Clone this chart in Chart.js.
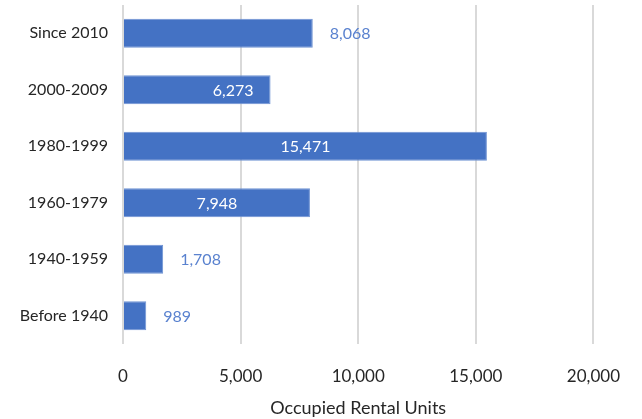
<!DOCTYPE html>
<html>
<head>
<meta charset="utf-8">
<script src="https://cdn.jsdelivr.net/npm/chart.js@4/dist/chart.umd.min.js"></script>
<style>
  html, body { margin: 0; padding: 0; background: #fff; }
  #wrap { width: 642px; height: 419px; }
</style>
</head>
<body>
<div id="wrap"><canvas id="barchart"></canvas></div>
<script>
var categories = ["Since 2010", "2000-2009", "1980-1999", "1960-1979", "1940-1959", "Before 1940"];
var units = [8068, 6273, 15471, 7948, 1708, 989];
var xTicks = [0, 5000, 10000, 15000, 20000];
// where Excel put each data label
var labelPlace = ["outside", "end", "center", "center", "outside", "outside"];

var FONT = 'Lato, "Open Sans", sans-serif';

var barLabels = {
  id: 'barLabels',
  afterDatasetsDraw: function(chart) {
    var ctx = chart.ctx;
    var meta = chart.getDatasetMeta(0);
    ctx.save();
    ctx.font = '16px ' + FONT;
    ctx.textBaseline = 'middle';
    meta.data.forEach(function(bar, i) {
      var txt = units[i].toLocaleString('en-US');
      var place = labelPlace[i];
      if (place === 'outside') {
        ctx.fillStyle = '#5a82cf';
        ctx.textAlign = 'left';
        ctx.fillText(txt, bar.x + 17, bar.y + 1);
      } else if (place === 'end') {
        ctx.fillStyle = '#ffffff';
        ctx.textAlign = 'right';
        ctx.fillText(txt, bar.x - 17, bar.y + 1);
      } else {
        ctx.fillStyle = '#ffffff';
        ctx.textAlign = 'center';
        ctx.fillText(txt, (bar.x + bar.base) / 2, bar.y + 1);
      }
    });
    ctx.restore();
  }
};

new Chart(document.getElementById("barchart"), {
  type: 'bar',
  data: {
    labels: categories,
    datasets: [{
      label: "Occupied Rental Units",
      data: units,
      backgroundColor: "#4472C4",
      borderColor: "#6f93d3",
      borderWidth: 1,
      categoryPercentage: 1,
      barPercentage: 0.51
    }]
  },
  options: {
    indexAxis: 'y',
    responsive: true,
    maintainAspectRatio: false,
    animation: false,
    layout: { padding: { left: 0, right: 48, top: 5, bottom: 0 } },
    plugins: {
      legend: { display: false },
      tooltip: { enabled: false }
    },
    scales: {
      x: {
        min: 0,
        max: 20000,
        afterBuildTicks: function(scale) {
          scale.ticks = xTicks.map(function(v) { return { value: v }; });
        },
        afterFit: function(scale) { scale.height = 75; },
        grid: { color: '#d9d9d9', lineWidth: 2, drawTicks: false },
        border: { display: false },
        ticks: {
          color: '#262626',
          padding: 22,
          font: { family: FONT, size: 17 },
          callback: function(v) { return v.toLocaleString('en-US'); }
        },
        title: {
          display: true,
          text: 'Occupied Rental Units',
          color: '#262626',
          font: { family: FONT, size: 18 },
          padding: { top: 4, bottom: 0 }
        }
      },
      y: {
        afterFit: function(scale) {
          scale.width = 123;
          scale.paddingTop = 0;
          scale.paddingBottom = 0;
        },
        grid: { display: false, drawTicks: false },
        border: { display: false },
        ticks: {
          color: '#262626',
          padding: 15,
          font: { family: FONT, size: 16 }
        }
      }
    }
  },
  plugins: [barLabels]
});
</script>
</body>
</html>
